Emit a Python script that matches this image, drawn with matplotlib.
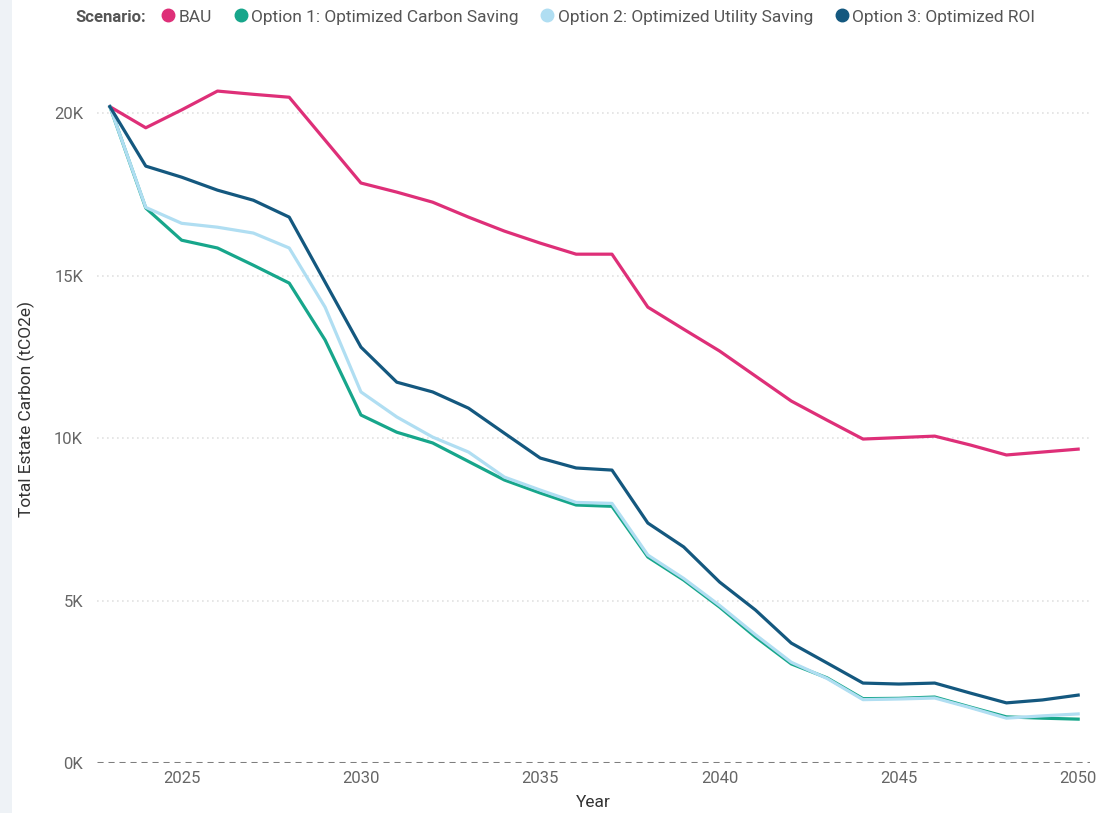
import matplotlib.pyplot as plt
from matplotlib.lines import Line2D
from matplotlib.patches import Rectangle

years = list(range(2023, 2051))

bau = [20200, 19550, 20100, 20680, 20580, 20490, 19170, 17850, 17570, 17260,
       16800, 16370, 16000, 15660, 15660, 14030, 13350, 12680, 11910, 11140,
       10550, 9970, 10015, 10060, 9785, 9480, 9570, 9660]
opt1_carbon = [20200, 17080, 16090, 15850, 15320, 14770, 13020, 10710, 10180, 9850,
               9280, 8710, 8310, 7940, 7900, 6340, 5630, 4800, 3880, 3050,
               2620, 1980, 1990, 2030, 1720, 1420, 1380, 1350]
opt2_utility = [20200, 17100, 16610, 16490, 16310, 15850, 14030, 11420, 10650, 10030,
                9570, 8800, 8400, 8020, 7990, 6400, 5680, 4850, 3950, 3100,
                2600, 1950, 1970, 2000, 1700, 1380, 1450, 1510]
opt3_roi = [20200, 18370, 18030, 17630, 17320, 16800, 14800, 12800, 11720, 11420,
            10920, 10150, 9385, 9080, 9015, 7385, 6650, 5570, 4710, 3690,
            3077, 2460, 2430, 2460, 2150, 1850, 1940, 2090]

series_names = ["BAU", "Option 1: Optimized Carbon Saving",
                "Option 2: Optimized Utility Saving", "Option 3: Optimized ROI"]
series_values = [bau, opt1_carbon, opt2_utility, opt3_roi]
colors = ["#DE2F78", "#17A68B", "#B0DEF2", "#14587F"]

y_ticks = [0, 5000, 10000, 15000, 20000]
y_tick_labels = ["0K", "5K", "10K", "15K", "20K"]
x_ticks = [2025, 2030, 2035, 2040, 2045, 2050]

plt.rcParams["font.family"] = ["Roboto", "DejaVu Sans"]

W, H = 1102, 813
fig = plt.figure(figsize=(W / 100, H / 100), dpi=100)
fig.patch.set_facecolor("white")
# pale panel edge down the left side
fig.patches.append(Rectangle((0, 0), 12 / W, 1, transform=fig.transFigure,
                             facecolor="#EEF2F6", edgecolor="none", zorder=0))

ax = fig.add_axes([97 / W, 1 - 763 / H, (1090 - 97) / W, (763 - 55) / H])
for name, vals, c in zip(series_names, series_values, colors):
    ax.plot(years, vals, color=c, linewidth=2.3, label=name,
            solid_joinstyle="round", zorder=3)

ax.set_xlim(2022.64, 2050.33)
ax.set_ylim(0, 21790)
ax.set_yticks(y_ticks)
ax.set_yticklabels(y_tick_labels)
ax.set_xticks(x_ticks)

for v in y_ticks[1:]:
    ax.axhline(v, color="#E2E2E2", linewidth=1.2, linestyle=(0, (1, 2)), zorder=1)
ax.axhline(0, color="#7E7E7E", linewidth=2.2, linestyle=(0, (2, 1.6)), zorder=2)

for side in ["top", "right", "left", "bottom"]:
    ax.spines[side].set_visible(False)
ax.tick_params(axis="both", length=0, labelsize=12, colors="#666666")
ax.tick_params(axis="y", pad=10)
ax.tick_params(axis="x", pad=6)

ax.set_ylabel("Total Estate Carbon (tCO2e)", fontsize=12.5, color="#333333", labelpad=14)
ax.set_xlabel("Year", fontsize=12.5, color="#333333", labelpad=6)

fig.text(75 / W, 1 - 17 / H, "Scenario:", fontsize=12, fontweight="bold",
         color="#555555", va="center", ha="left")
handles = [Line2D([], [], linestyle="none", marker="o", markersize=9,
                  markerfacecolor=c, markeredgecolor=c) for c in colors]
fig.legend(handles, series_names, loc="center left",
           bbox_to_anchor=(163 / W, 1 - 17 / H), ncol=4, frameon=False,
           fontsize=12.5, labelcolor="#555555", handlelength=0.6,
           handletextpad=0.3, columnspacing=1.35, borderpad=0, borderaxespad=0)

fig.savefig("out.png", dpi=100)
plt.close(fig)
